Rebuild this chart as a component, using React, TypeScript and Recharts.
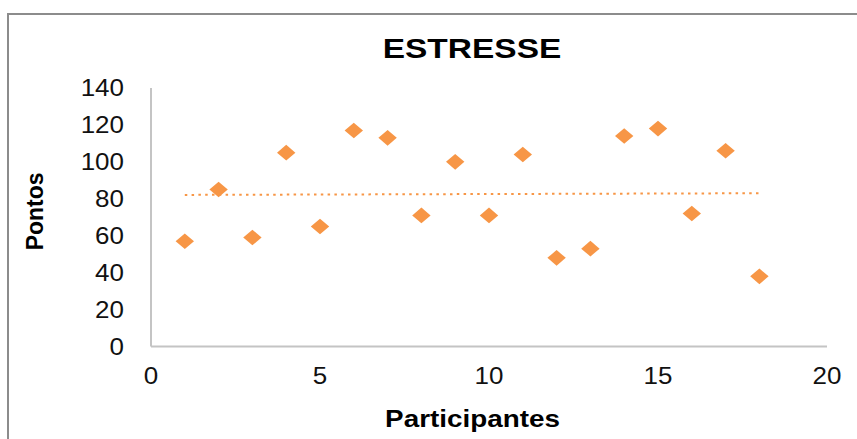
import { ScatterChart, Scatter, XAxis, YAxis } from 'recharts';

// participants 1..18 and their stress score
const participants = [1, 2, 3, 4, 5, 6, 7, 8, 9, 10, 11, 12, 13, 14, 15, 16, 17, 18];
const pontos = [57, 85, 59, 105, 65, 117, 113, 71, 100, 71, 104, 48, 53, 114, 118, 72, 106, 38];

// linear trendline end points
const trendX = [1, 18];
const trendY = [82.1, 83.0];

const xTicks = [0, 5, 10, 15, 20];
const yTicks = [0, 20, 40, 60, 80, 100, 120, 140];

const ORANGE = '#f79646';
const FONT = '"Liberation Sans", Arial, sans-serif';

const points = participants.map((p, i) => ({ x: p, y: pontos[i] }));
const trend = trendX.map((x, i) => ({ x, y: trendY[i] }));

const Diamond = (props: any) => {
    const { cx, cy } = props;
    if (cx == null || cy == null) return null;
    return (
        <polygon
            points={`${cx},${cy - 7.8} ${cx + 9.2},${cy} ${cx},${cy + 7.8} ${cx - 9.2},${cy}`}
            fill={ORANGE}
        />
    );
};

const XTick = (props: any) => {
    const { x, y, payload } = props;
    return (
        <text
            transform={`translate(${x},${y}) scale(1.13,1)`}
            textAnchor="middle"
            dy="0.71em"
            fontSize={23}
            fontFamily={FONT}
            fill="#111"
        >
            {payload.value}
        </text>
    );
};

const YTick = (props: any) => {
    const { x, y, payload } = props;
    return (
        <text
            transform={`translate(${x},${y}) scale(1.13,1)`}
            textAnchor="end"
            dy="0.36em"
            fontSize={23}
            fontFamily={FONT}
            fill="#111"
        >
            {payload.value}
        </text>
    );
};

export default function App() {
    return (
        <div
            style={{
                position: 'absolute',
                left: 0,
                top: 0,
                width: 857,
                height: 439,
                overflow: 'hidden',
                background: '#fff',
            }}
        >
            <div
                style={{
                    position: 'absolute',
                    left: 7,
                    top: 13,
                    width: 900,
                    height: 500,
                    border: '2px solid #8c8c8c',
                }}
            />
            <ScatterChart
                width={857}
                height={439}
                margin={{ top: 88, right: 30, bottom: 62.5, left: 91 }}
                style={{ position: 'absolute', left: 0, top: 0 }}
            >
                <XAxis
                    type="number"
                    dataKey="x"
                    domain={[0, 20]}
                    ticks={xTicks}
                    height={30}
                    tickLine={false}
                    tickSize={0}
                    tickMargin={21.5}
                    axisLine={{ stroke: '#c4c4c4', strokeWidth: 2 }}
                    tick={<XTick />}
                />
                <YAxis
                    type="number"
                    dataKey="y"
                    domain={[0, 140]}
                    ticks={yTicks}
                    width={60}
                    tickLine={false}
                    tickSize={0}
                    tickMargin={27}
                    axisLine={{ stroke: '#c4c4c4', strokeWidth: 2 }}
                    tick={<YTick />}
                />
                <Scatter
                    data={trend}
                    line={{ stroke: ORANGE, strokeWidth: 2, strokeDasharray: '2.5 4.3' }}
                    shape={() => null}
                    isAnimationActive={false}
                />
                <Scatter data={points} shape={<Diamond />} isAnimationActive={false} />
            </ScatterChart>
            <svg
                width={857}
                height={439}
                style={{ position: 'absolute', left: 0, top: 0, pointerEvents: 'none' }}
            >
                <text
                    transform="translate(472,57.7) scale(1.24,1)"
                    textAnchor="middle"
                    fontSize={27}
                    fontWeight="bold"
                    fontFamily={FONT}
                    fill="#000"
                >
                    ESTRESSE
                </text>
                <text
                    transform="translate(472.5,427.3) scale(1.16,1)"
                    textAnchor="middle"
                    fontSize={24}
                    fontWeight="bold"
                    fontFamily={FONT}
                    fill="#000"
                >
                    Participantes
                </text>
                <text
                    transform="translate(43,211.4) rotate(-90)"
                    textAnchor="middle"
                    fontSize={23}
                    fontWeight="bold"
                    fontFamily={FONT}
                    fill="#000"
                >
                    Pontos
                </text>
            </svg>
        </div>
    );
}
